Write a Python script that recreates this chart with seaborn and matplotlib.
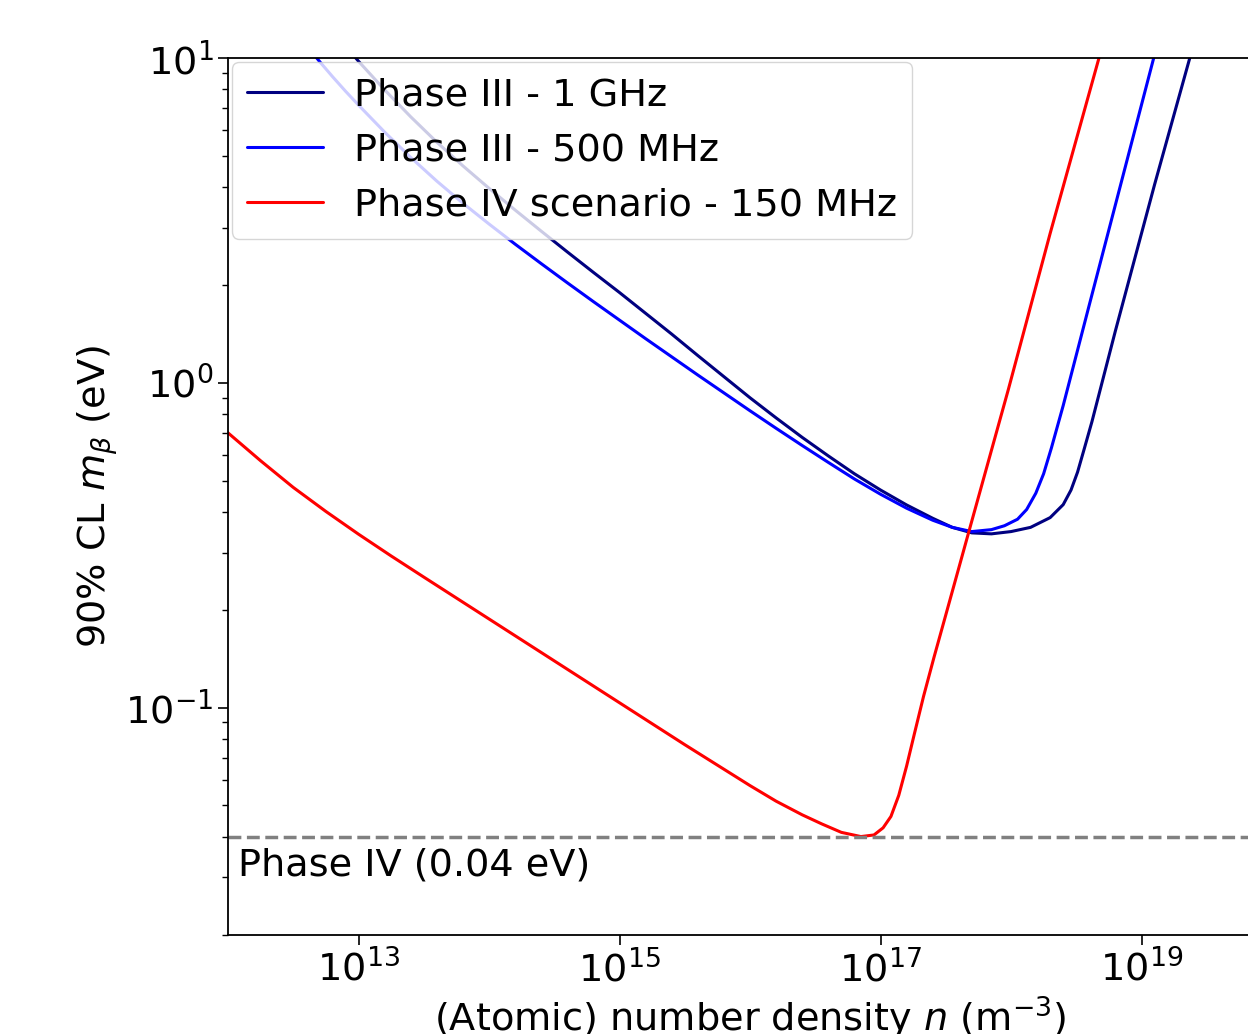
import numpy as np
import pandas as pd
import matplotlib
matplotlib.use("Agg")
import matplotlib.pyplot as plt
import seaborn as sns
from matplotlib.ticker import NullLocator

# ---- data (log10 values) ----
red_logn = [11.95, 12.0, 12.25, 12.5, 12.75, 13.0, 13.25, 13.5, 14.0, 14.5, 15.0, 15.5,
            16.0, 16.2, 16.4, 16.55, 16.7, 16.85, 16.95, 17.02, 17.08, 17.14, 17.2,
            17.26, 17.33, 17.41, 17.5, 17.6, 17.7, 17.98, 18.3, 18.67, 18.75]
red_logm = [-0.14, -0.154, -0.24, -0.322, -0.396, -0.466, -0.533, -0.598, -0.727, -0.856,
            -0.985, -1.114, -1.24, -1.288, -1.33, -1.358, -1.384, -1.397, -1.392, -1.37,
            -1.335, -1.27, -1.18, -1.08, -0.965, -0.845, -0.715, -0.57, -0.425, -0.02,
            0.46, 0.994, 1.11]

blue_logn = [12.6, 12.7, 12.8, 12.9, 13.0, 13.2, 13.4, 13.6, 13.8, 14.0, 14.2, 14.4, 14.6,
             14.8, 15.0, 15.2, 15.4, 15.6, 15.8, 16.0, 16.2, 16.4, 16.6, 16.8, 17.0, 17.2,
             17.4, 17.55, 17.7, 17.85, 17.95, 18.05, 18.12, 18.19, 18.25, 18.31, 18.4,
             18.6, 18.85, 19.1, 19.16]
blue_logm = [1.04, 0.99, 0.943, 0.898, 0.855, 0.772, 0.694, 0.621, 0.553, 0.489, 0.427,
             0.367, 0.308, 0.250, 0.193, 0.136, 0.080, 0.024, -0.031, -0.086, -0.140,
             -0.193, -0.245, -0.296, -0.343, -0.386, -0.423, -0.445, -0.458, -0.452,
             -0.44, -0.42, -0.39, -0.34, -0.28, -0.2, -0.07, 0.24, 0.625, 1.01, 1.1]

navy_logn = [12.9, 13.0, 13.2, 13.4, 13.6, 13.8, 14.0, 14.2, 14.4, 14.6, 14.8, 15.0, 15.2,
             15.4, 15.6, 15.8, 16.0, 16.2, 16.4, 16.6, 16.8, 17.0, 17.2, 17.4, 17.55,
             17.7, 17.85, 18.0, 18.15, 18.3, 18.4, 18.46, 18.51, 18.56, 18.62, 18.8,
             19.1, 19.37, 19.43]
navy_logm = [1.038, 0.99, 0.902, 0.819, 0.741, 0.668, 0.599, 0.532, 0.467, 0.403, 0.340,
             0.278, 0.214, 0.150, 0.084, 0.019, -0.046, -0.108, -0.168, -0.225, -0.28,
             -0.33, -0.376, -0.417, -0.445, -0.462, -0.465, -0.458, -0.445, -0.415,
             -0.375, -0.33, -0.275, -0.205, -0.12, 0.16, 0.61, 1.0, 1.09]

series_labels = ["Phase III - 1 GHz", "Phase III - 500 MHz", "Phase IV scenario - 150 MHz"]
series_colors = ["#000080", "#0000ff", "#ff0000"]
phase4_limit = 0.04
phase4_text = "Phase IV (0.04 eV)"

sns.set_style("ticks")
plt.rcParams['font.family'] = ['DejaVu Sans']
plt.rcParams['mathtext.fontset'] = 'dejavusans'
plt.rcParams['text.color'] = 'black'
plt.rcParams['axes.labelcolor'] = 'black'
FS = 27.5

fig = plt.figure(figsize=(12.48, 10.34), dpi=100)
W, H = 1248, 1034
left, right, top, bottom = 228, 1272, 58, 935
ax = fig.add_axes([left / W, 1 - bottom / H, (right - left) / W, (bottom - top) / H])

data = [(navy_logn, navy_logm), (blue_logn, blue_logm), (red_logn, red_logm)]
for (ln, lm), lab, col in zip(data, series_labels, series_colors):
    df = pd.DataFrame({"n": 10 ** np.array(ln), "m": 10 ** np.array(lm)})
    sns.lineplot(data=df, x="n", y="m", sort=False, color=col, linewidth=2.2,
                 label=lab, ax=ax)

ax.axhline(phase4_limit, color="gray", linestyle="--", linewidth=2.5)
ax.set_xscale("log")
ax.set_yscale("log")
ax.set_xlim(1e12, 1e20)
ax.set_ylim(10 ** -1.7, 10)
ax.text(1.2e12, 0.037, phase4_text, fontsize=FS, va="top", ha="left")

ax.set_xticks([1e13, 1e15, 1e17, 1e19])
ax.xaxis.set_minor_locator(NullLocator())
ax.tick_params(axis="both", which="major", labelsize=FS, length=7, width=1.2,
               colors="black")
ax.tick_params(axis="y", which="minor", length=4, width=1.0, colors="black")

ax.set_xlabel(r"(Atomic) number density $n$ (m$^{-3}$)", fontsize=FS)
ax.set_ylabel(r"90% CL $m_\beta$ (eV)", fontsize=FS)
for s in ax.spines.values():
    s.set_color("black")
    s.set_linewidth(1.3)

ax.legend(loc="upper left", fontsize=FS, framealpha=0.8, borderaxespad=0.1)

fig.savefig("out.png", dpi=100)
